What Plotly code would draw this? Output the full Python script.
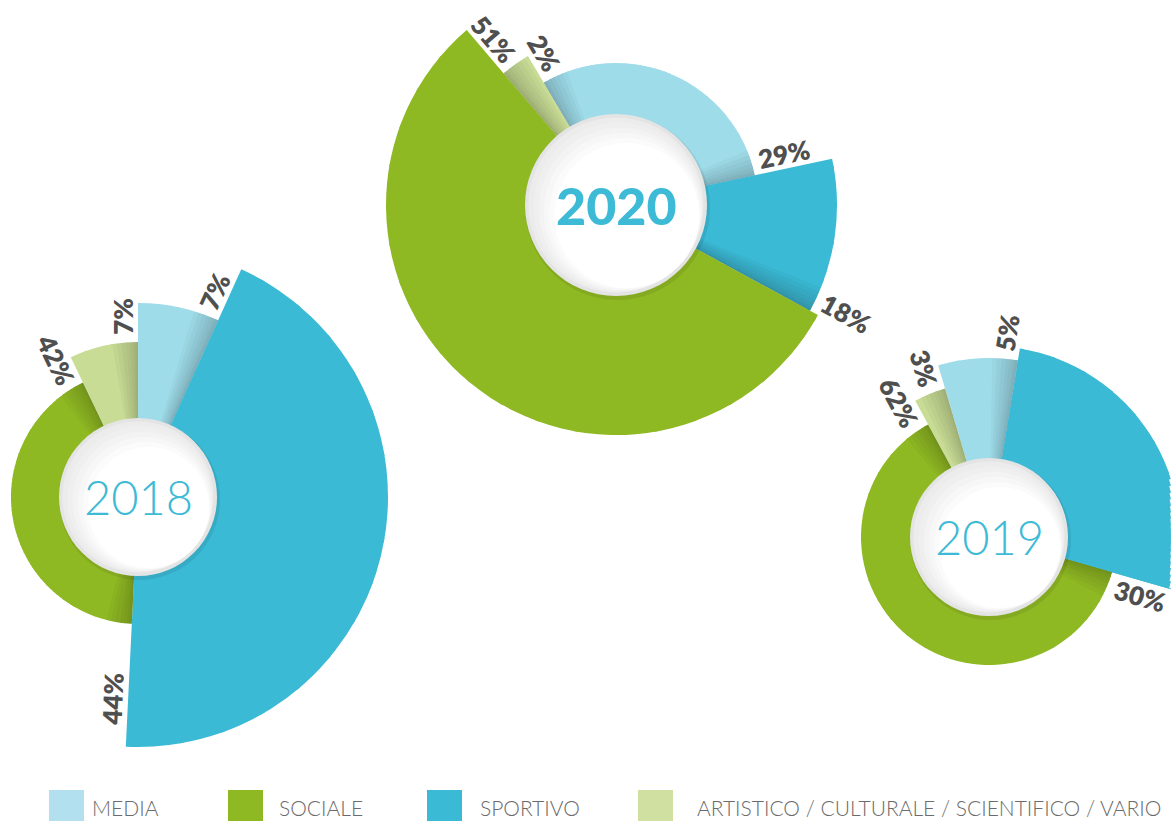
import math
import numpy as np
import plotly.graph_objects as go

W, H = 1171, 821

# ---------------- data ----------------
legend_labels = ["MEDIA", "SOCIALE", "SPORTIVO", "ARTISTICO / CULTURALE / SCIENTIFICO / VARIO"]
# slices are drawn clockwise in this order in every ring
slice_order = ["MEDIA", "SPORTIVO", "SOCIALE", "ARTISTICO / CULTURALE / SCIENTIFICO / VARIO"]

years = ["2018", "2020", "2019"]

pct_2018 = [7, 44, 42, 7]          # printed percentages (slice_order)
pct_2020 = [29, 18, 51, 2]
pct_2019 = [5, 30, 62, 3]

arc_2018 = [24.4, 158.4, 151.5, 25.7]   # drawn angular width of each slice (deg)
arc_2020 = [108.5, 40.7, 200.9, 9.9]
arc_2019 = [25.8, 96.7, 225.6, 11.9]

outer_2018 = [194, 250, 127, 155]        # drawn outer radius of each slice
outer_2020 = [142, 221, 230, 173]
outer_2019 = [179, 191, 128, 155]

start_2018 = 0.0      # clockwise angle (from 12 o'clock) where MEDIA begins
start_2020 = 329.4
start_2019 = 343.5

# ---------------- styling ----------------
slice_colors = {
    "MEDIA": "#9fdcea",
    "SOCIALE": "#8fb923",
    "SPORTIVO": "#3bbad6",
    "ARTISTICO / CULTURALE / SCIENTIFICO / VARIO": "#c8dc95",
}
legend_colors = {
    "MEDIA": "#b3e0ee",
    "SOCIALE": "#8fb923",
    "SPORTIVO": "#3bbad6",
    "ARTISTICO / CULTURALE / SCIENTIFICO / VARIO": "#cfe0a0",
}
YEAR_BLUE = "#3dbad6"
LABEL_GREY = "#4f4f4f"
FONT = "Lato"

charts = [
    dict(year="2018", pct=pct_2018, arc=arc_2018, outer=outer_2018, start=start_2018,
         center=(138, 497), hole=79, weight=300, size=47),
    dict(year="2020", pct=pct_2020, arc=arc_2020, outer=outer_2020, start=start_2020,
         center=(616, 205), hole=91, weight=900, size=52),
    dict(year="2019", pct=pct_2019, arc=arc_2019, outer=outer_2019, start=start_2019,
         center=(989, 537), hole=79, weight=300, size=47),
]

BASE = 40  # bars start under the white disc


def sector_bbox(s0, s1):
    """Same bounding box rule plotly.js uses for polar sectors."""
    arc = s1 - s0
    a0 = s0 % 360
    a1 = a0 + arc
    c0, n0 = math.cos(math.radians(a0)), math.sin(math.radians(a0))
    c1, n1 = math.cos(math.radians(a1)), math.sin(math.radians(a1))
    if (a0 <= 90 and a1 >= 90) or (a0 > 90 and a1 >= 450):
        y1 = 1
    elif n0 <= 0 and n1 <= 0:
        y1 = 0
    else:
        y1 = max(n0, n1)
    if (a0 <= 180 and a1 >= 180) or (a0 > 180 and a1 >= 540):
        x0 = -1
    elif c0 >= 0 and c1 >= 0:
        x0 = 0
    else:
        x0 = min(c0, c1)
    if (a0 <= 270 and a1 >= 270) or (a0 > 270 and a1 >= 630):
        y0 = -1
    elif n0 >= 0 and n1 >= 0:
        y0 = 0
    else:
        y0 = min(n0, n1)
    if a1 >= 360:
        x1 = 1
    elif c0 <= 0 and c1 <= 0:
        x1 = 0
    else:
        x1 = max(c0, c1)
    return x0, y0, x1, y1


def fit_radius(cx, cy, s0, s1, rmax):
    bx0, by0, bx1, by1 = sector_bbox(s0, s1)
    R = rmax
    if bx1 > 0:
        R = min(R, (W - cx) / bx1)
    if bx0 < 0:
        R = min(R, cx / (-bx0))
    if by1 > 0:
        R = min(R, cy / by1)
    if by0 < 0:
        R = min(R, (H - cy) / (-by0))
    return R - 0.05, (bx0, by0, bx1, by1)


fig = go.Figure()
layout_polars = {}
annotations = []
shapes = []
n_sub = 0
SECT = 10
OVER = 0.5

SHADE_PX = [22, 18, 14, 10, 7, 4, 2]
SHADE_ALPHA = 0.035

for ch in charts:
    cx, cy = ch["center"]
    arcs = np.array(ch["arc"])
    outer = np.array(ch["outer"])
    starts = ch["start"] + np.concatenate([[0], np.cumsum(arcs)[:-1]])
    ends = starts + arcs
    theta = starts + arcs / 2.0
    rmax = max(ch["outer"]) + 12

    # soft shadow cast by the taller neighbour onto the shorter slice
    sh_theta, sh_width, sh_r = [], [], []
    for i in range(4):
        j = (i + 1) % 4
        b = ends[i]
        r_short = min(outer[i], outer[j])
        for px in SHADE_PX:
            w = math.degrees(px / (0.85 * r_short))
            c = b - w / 2 if outer[i] < outer[j] else b + w / 2
            sh_theta.append(c)
            sh_width.append(w)
            sh_r.append(r_short - BASE)

    # sectors: 10 degrees, split finer where the canvas edge limits the radius
    sectors = []
    for k in range(360 // SECT):
        a, b = k * SECT, (k + 1) * SECT
        R, _ = fit_radius(cx, cy, a - OVER, b + OVER, rmax)
        if R < max(ch["outer"]):
            for m in range(5):
                sectors.append((a + 2 * m - 0.3, a + 2 * m + 2 + 0.3))
        else:
            sectors.append((a - OVER, b + OVER))

    for s0, s1 in sectors:
        R, (bx0, by0, bx1, by1) = fit_radius(cx, cy, s0, s1, rmax)
        dx = [max(0.0, (cx + R * bx0) / W), min(1.0, (cx + R * bx1) / W)]
        dy = [max(0.0, 1 - (cy - R * by0) / H), min(1.0, 1 - (cy - R * by1) / H)]
        n_sub += 1
        name = "polar" if n_sub == 1 else f"polar{n_sub}"
        layout_polars[name] = dict(
            domain=dict(x=dx, y=dy),
            sector=[s0, s1],
            hole=0,
            bgcolor="rgba(0,0,0,0)",
            radialaxis=dict(visible=False, range=[0, R], autorange=False),
            angularaxis=dict(visible=False, rotation=90, direction="clockwise"),
        )
        fig.add_trace(go.Barpolar(
            r=outer - BASE,
            base=BASE,
            theta=theta,
            width=arcs,
            marker=dict(color=[slice_colors[c] for c in slice_order], line=dict(width=0)),
            subplot=name,
            showlegend=False,
            hoverinfo="skip",
        ))
        fig.add_trace(go.Barpolar(
            r=sh_r,
            base=BASE,
            theta=sh_theta,
            width=sh_width,
            marker=dict(color=f"rgba(20,40,40,{SHADE_ALPHA})", line=dict(width=0)),
            subplot=name,
            showlegend=False,
            hoverinfo="skip",
        ))

    # percentage labels, placed beside the boundary at the end of each slice
    fs = 26
    for i in range(4):
        j = (i + 1) % 4
        ri, rj = outer[i], outer[j]
        short, long_ = min(ri, rj), max(ri, rj)
        txt = f"{ch['pct'][i]}%"
        L = fs * (0.6 * (len(txt) - 1) + 0.85)
        rl = max(short + L / 2 + 7, long_ - 46)
        side = -1 if ri < rj else 1
        end = ends[i] % 360
        ang = end + side * math.degrees(15 / rl)
        x = cx + rl * math.sin(math.radians(ang))
        y = cy - rl * math.cos(math.radians(ang))
        tang = (end % 180) - 90
        annotations.append(dict(
            x=x / W, y=1 - y / H, xref="paper", yref="paper",
            text=txt, showarrow=False, textangle=tang,
            xanchor="center", yanchor="middle",
            font=dict(family=FONT, size=fs, color=LABEL_GREY, weight=800),
        ))

    # white centre disc with soft grey rim / gradient
    hr = ch["hole"]

    def circ(x, y, r, col):
        return dict(type="circle", xref="paper", yref="paper",
                    x0=(x - r) / W, x1=(x + r) / W,
                    y0=1 - (y + r) / H, y1=1 - (y - r) / H,
                    fillcolor=col, line=dict(width=0), layer="above")

    shapes.append(circ(cx + 1.5, cy + 2.5, hr + 1.5, "rgba(0,0,0,0.08)"))
    shapes.append(circ(cx, cy, hr, "#e4e4e4"))
    inner = hr - 3.5
    steps = ["#ececec", "#efefef", "#f3f3f3", "#f7f7f7", "#fbfbfb", "#ffffff"]
    for s, col in enumerate(steps):
        d = s * 3.0
        off = d / math.sqrt(2)
        shapes.append(circ(cx + off, cy + off, inner - d, col))

    annotations.append(dict(
        x=cx / W, y=1 - cy / H, xref="paper", yref="paper",
        text=ch["year"], showarrow=False, xanchor="center", yanchor="middle",
        font=dict(family=FONT, size=ch["size"], color=YEAR_BLUE, weight=ch["weight"]),
    ))

# ---------------- legend row ----------------
legend_square_x = [49, 228, 427, 638]
legend_text_x = [90, 277, 478, 695]
for lab, sx, tx in zip(legend_labels, legend_square_x, legend_text_x):
    shapes.append(dict(type="rect", xref="paper", yref="paper",
                       x0=sx / W, x1=(sx + 35) / W, y0=1 - 828 / H, y1=1 - 790 / H,
                       fillcolor=legend_colors[lab], line=dict(width=0), layer="above"))
    annotations.append(dict(
        x=tx / W, y=1 - 807 / H, xref="paper", yref="paper", text=lab,
        showarrow=False, xanchor="left", yanchor="middle",
        font=dict(family=FONT, size=21, color="#6b6b6b", weight=300),
    ))

fig.update_layout(
    width=W, height=H,
    margin=dict(l=0, r=0, t=0, b=0, pad=0),
    paper_bgcolor="white", plot_bgcolor="white",
    showlegend=False,
    annotations=annotations,
    shapes=shapes,
    **layout_polars,
)

fig.write_html(
    "out.html",
    config={"displayModeBar": False, "staticPlot": True},
    post_script="document.body.style.margin='0';document.body.style.padding='0';"
                "document.documentElement.style.overflow='hidden';",
)
